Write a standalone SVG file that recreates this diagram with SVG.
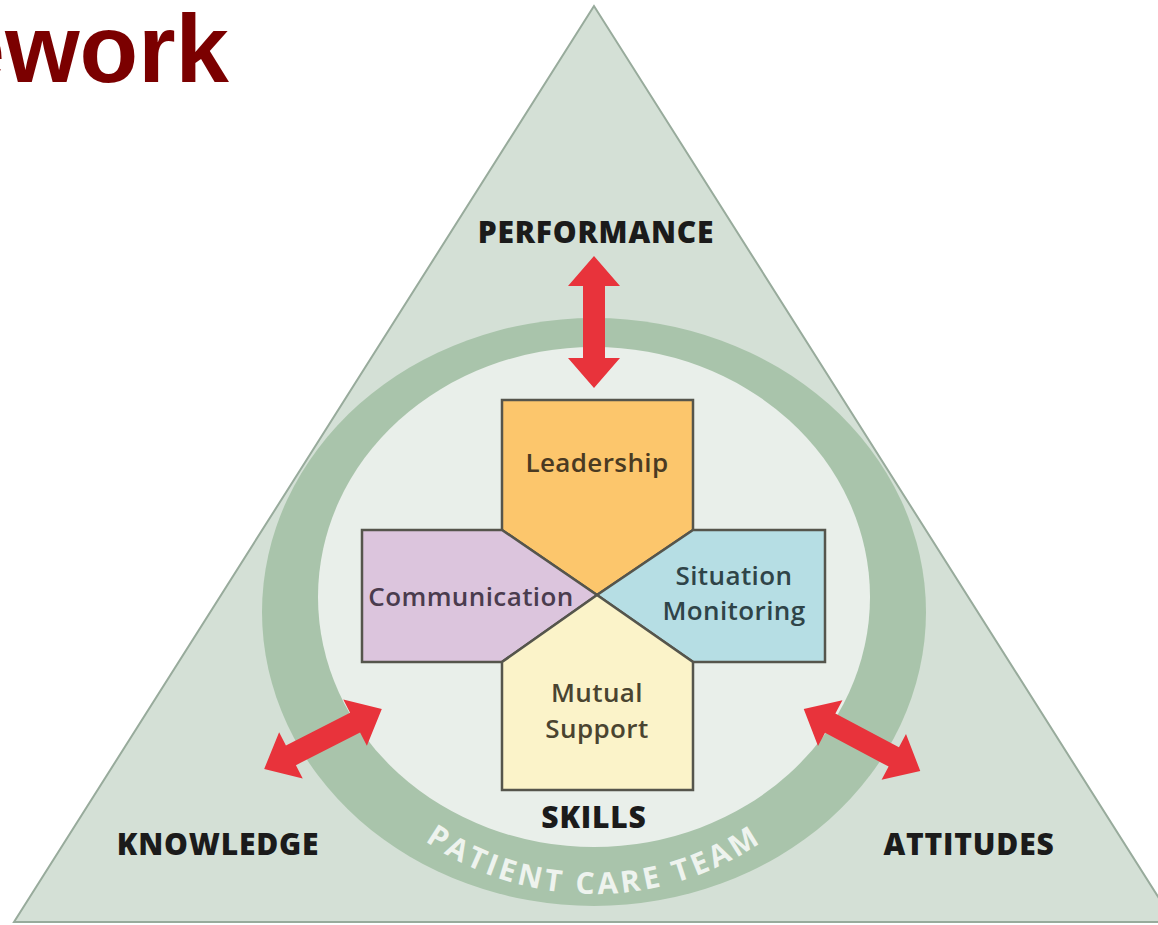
<svg xmlns="http://www.w3.org/2000/svg" width="1158" height="925" viewBox="0 0 1158 925">
  <defs>
    <style>
      .corner { font-family: "Open Sans", "Liberation Sans", sans-serif; font-weight: 800; font-size: 30px; fill: #1b1b1b; text-anchor: middle; letter-spacing: 0.8px; }
      .tile { stroke: #55554c; stroke-width: 2.5; stroke-linejoin: miter; }
      .tile-text { font-family: "Open Sans", "Liberation Sans", sans-serif; font-weight: 600; font-size: 26px; text-anchor: middle; letter-spacing: 0.4px; }
      .arrow { fill: #e8333b; }
      .band-text { font-family: "Open Sans", "Liberation Sans", sans-serif; font-weight: 700; font-size: 30px; fill: #eef3ee; letter-spacing: 3.5px; }
    </style>
    <!-- double-headed arrow drawn along the x axis, centred on the origin -->
    <path id="dbl-arrow" d="M -66 0 L -36 -26 L -36 -11 L 36 -11 L 36 -26 L 66 0 L 36 26 L 36 11 L -36 11 L -36 26 Z"/>
    <!-- arc along the lower part of the ring for the team label -->
    <path id="band-arc" d="M 298 598 A 296 296 0 0 0 890 598" fill="none"/>
  </defs>

  <rect width="1158" height="925" fill="#ffffff"/>

  <!-- heading fragment -->
  <text x="229" y="82" font-family="'Liberation Sans', Arial, sans-serif" font-weight="700" font-size="96" fill="#7b0000" text-anchor="end">ework</text>

  <!-- outer triangle -->
  <g id="triangle">
    <polygon points="594,6 14,922 1174,922" fill="#d4e0d6" stroke="#98ab9c" stroke-width="2"/>
  </g>

  <!-- patient care team ring -->
  <g id="ring">
    <ellipse cx="594" cy="612" rx="332" ry="294" fill="#a9c4ab"/>
    <ellipse cx="594" cy="597" rx="276" ry="250" fill="#e9efea"/>
    <text class="band-text"><textPath href="#band-arc" startOffset="50%" text-anchor="middle">PATIENT CARE TEAM</textPath></text>
  </g>

  <!-- the four skill tiles -->
  <g id="leadership">
    <polygon class="tile" points="502,400 693,400 693,530 597,595 502,530" fill="#fcc66c"/>
    <text class="tile-text" x="597" y="472" fill="#4a3a22" letter-spacing="1.6">Leadership</text>
  </g>
  <g id="communication">
    <polygon class="tile" points="362,530 502,530 597,595 502,662 362,662" fill="#dcc5dd"/>
    <text class="tile-text" x="471" y="606" fill="#4a3c4e">Communication</text>
  </g>
  <g id="situation-monitoring">
    <polygon class="tile" points="693,530 825,530 825,662 693,662 597,595" fill="#b6dee4"/>
    <text class="tile-text" x="734" y="585" fill="#2f4448">Situation</text>
    <text class="tile-text" x="734" y="620" fill="#2f4448">Monitoring</text>
  </g>
  <g id="mutual-support">
    <polygon class="tile" points="597,595 693,662 693,790 502,790 502,662" fill="#fbf3c9"/>
    <text class="tile-text" x="597" y="702" fill="#4a4430" letter-spacing="1.5">Mutual</text>
    <text class="tile-text" x="597" y="738" fill="#4a4430" letter-spacing="1.5">Support</text>
  </g>

  <!-- corner labels -->
  <g id="performance"><text class="corner" x="596" y="243">PERFORMANCE</text></g>
  <g id="knowledge"><text class="corner" x="218" y="855">KNOWLEDGE</text></g>
  <g id="attitudes"><text class="corner" x="969" y="855">ATTITUDES</text></g>
  <g id="skills"><text class="corner" x="594" y="828">SKILLS</text></g>

  <!-- connectors: double arrows between the ring and the corners -->
  <g id="connectors" class="arrow">
    <use href="#dbl-arrow" transform="translate(594,322) rotate(90)"/>
    <use href="#dbl-arrow" transform="translate(323,739) rotate(-27)"/>
    <use href="#dbl-arrow" transform="translate(862,740) rotate(28)"/>
  </g>
</svg>
